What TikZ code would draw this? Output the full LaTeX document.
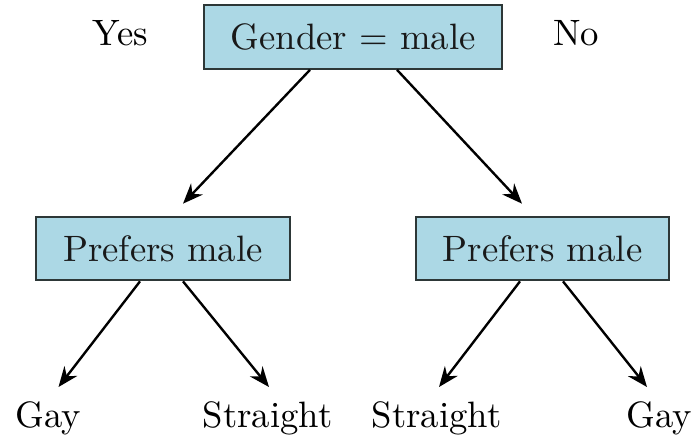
\documentclass[tikz,border=0pt]{standalone}
\usetikzlibrary{arrows.meta,calc}
\definecolor{boxfill}{RGB}{172,216,229}
\definecolor{boxline}{RGB}{45,55,55}
\begin{document}
\begin{tikzpicture}[x=0.2725pt,y=-0.2725pt,
  box/.style={draw=boxline,fill=boxfill,line width=0.6pt,inner sep=0pt,
    minimum height=17.3pt,text=black!90},
  rootbox/.style={box,minimum width=81.2pt},
  childbox/.style={box,minimum width=69.1pt},
  leaf/.style={anchor=base,inner sep=0pt},
  arr/.style={-{Stealth[length=5.5pt,width=4.4pt]},line width=0.65pt}]
\useasboundingbox (0,0) rectangle (693,435);
\node[rootbox] (root) at (353,37) {Gender = male};
\node[childbox] (L) at (163,248.5) {Prefers male};
\node[childbox] (R) at (542.5,248.5) {Prefers male};
\node[leaf] (yes) at (120.5,45) {Yes};
\node[leaf] (no) at (576,45) {No};
\node[leaf] (g1) at (48.5,427) {Gay};
\node[leaf] (s1) at (267.5,427) {Straight};
\node[leaf] (s2) at (436.5,427) {Straight};
\node[leaf] (g2) at (659,427) {Gay};
\draw[arr] ($(root.south)+(-43,0)$) -- ($(L.north)+(20,-12)$);
\draw[arr] ($(root.south)+(44,0)$) -- ($(R.north)+(-20.5,-12)$);
\draw[arr] ($(L.south)+(-23,0)$) -- ($(g1.base)+(10,-40)$);
\draw[arr] ($(L.south)+(20,0)$) -- ($(s1.base)+(1.5,-40)$);
\draw[arr] ($(R.south)+(-22.5,0)$) -- ($(s2.base)+(2.5,-40)$);
\draw[arr] ($(R.south)+(20.5,0)$) -- ($(g2.base)+(-12,-40)$);
\end{tikzpicture}
\end{document}
